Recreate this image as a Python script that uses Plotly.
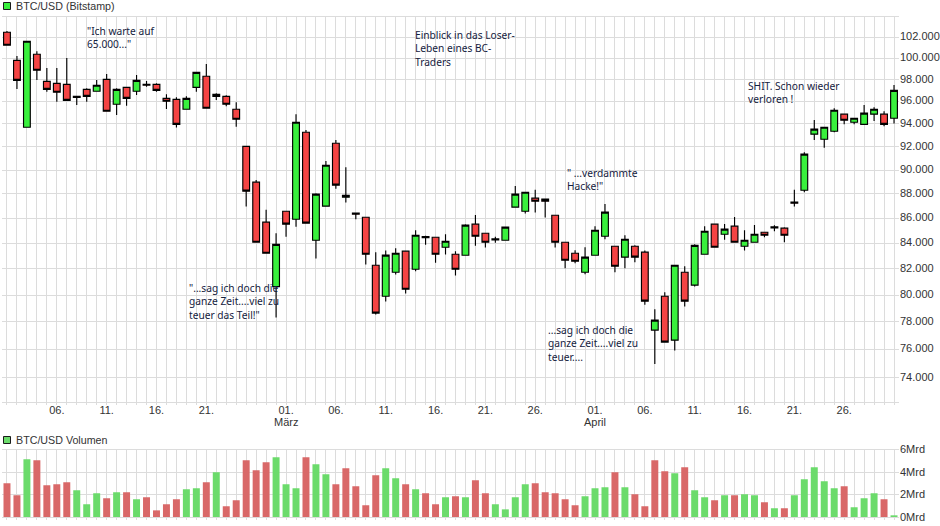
import math
import pandas as pd
import plotly.graph_objects as go
from plotly.subplots import make_subplots

dates = [d.strftime("%Y-%m-%d") for d in pd.date_range("2025-02-01", "2025-05-01")]

opens = [102490,99810,93710,100380,97850,97670,97580,96480,97120,96940,
         98040,95760,97300,96940,97580,97580,96300,96210,95310,97300,
         98320,96480,96480,95310,92030,88980,85690,80640,86580,85930,
         93270,84240,86990,92310,87730,86420,86090,82280,79910,81740,
         83380,81970,84530,84480,83690,83140,83060,85530,84800,84350,
         84240,86910,86580,87650,87570,86250,84080,83220,81740,83060,
         84560,83770,82910,83770,83300,77400,79910,76670,81740,80750,
         83140,85530,84720,85370,83770,84080,84880,85310,85210,87320,
         88310,93100,92660,93360,94870,94150,93970,94870,94870,94510]
closes = [101240,97940,101620,98880,97120,96850,96120,96390,96480,97490,
          95130,97120,96300,97940,97490,97030,96030,93970,96300,98690,
          95400,96670,95760,94420,88230,84080,83220,83920,85530,94150,
          85610,87980,90410,88730,87890,86340,83140,78650,83070,83220,
          80440,84640,84450,83140,84160,81970,85450,84560,84080,84270,
          85290,87980,88140,87400,87400,84080,82670,82590,82910,85040,
          86500,82200,84320,82910,79540,78130,76530,82280,79540,83840,
          84960,83690,85130,84080,84240,84720,84640,85230,84640,87240,
          91360,93540,93710,95220,94330,94510,94960,95310,93970,97030]
highs = [102610,100220,101620,100670,99090,99090,100030,96510,97210,97970,
         98530,97210,97300,98440,97880,97670,96670,96390,96480,98690,
         99470,96760,96580,95940,92030,89170,86690,84800,86580,94870,
         93470,88060,90780,92600,90240,86470,86090,83300,83430,83610,
         83380,85040,84590,84480,84720,83380,85530,86280,84800,84530,
         85290,88670,88140,88340,87570,86250,84080,83450,83690,85370,
         87160,83770,84640,83840,83430,78940,80210,82280,82200,83920,
         85370,85530,85550,86110,85040,85470,84880,85450,85290,88340,
         91530,94360,93710,95400,94870,94510,95700,95490,95130,97520]
lows = [101240,97150,93710,97970,96900,95990,96120,95700,95990,96940,
        95130,94800,95630,96600,97360,96900,95340,93680,95310,96900,
        95400,96150,95580,93760,86960,84080,83220,78320,84530,85330,
        85610,82800,86990,88440,87290,85930,82330,78540,79510,81560,
        80110,81820,83890,82480,83110,81480,83060,83810,83660,84050,
        84240,86910,86390,86480,86060,83660,82050,82440,81590,83060,
        84320,81740,82050,82520,79270,74960,76530,75920,79140,80640,
        83140,83690,84290,84080,83430,84080,84480,84960,84080,86960,
        88140,92600,91920,93270,93970,93970,93970,94270,93800,94030]

volumes = [3.00,1.93,5.13,5.04,2.82,2.91,3.09,2.37,1.13,2.11,
           1.66,2.20,2.20,1.57,1.75,0.59,1.13,1.57,2.46,2.55,
           3.09,3.98,0.95,1.48,5.04,4.15,4.87,5.31,2.91,2.55,
           5.31,4.69,3.80,2.91,4.33,2.73,1.04,3.71,4.33,3.44,
           2.91,2.46,2.11,1.13,1.75,1.84,1.75,3.26,2.11,1.13,
           0.68,1.75,2.91,3.00,2.20,2.11,1.57,1.04,1.84,2.55,
           2.64,3.98,2.64,2.02,0.95,5.04,4.07,3.89,4.42,2.37,
           1.75,1.48,1.93,1.93,2.02,1.93,1.31,0.77,0.77,1.93,
           3.35,4.42,3.18,2.55,2.73,0.86,1.66,2.11,1.57,0.15]
volume_dirs = ["R","R","G","R","R","R","R","G","G","G",
               "R","G","R","G","R","R","R","R","G","G",
               "R","G","R","R","R","R","R","G","G","G",
               "R","G","G","R","R","R","R","R","G","G",
               "R","G","R","R","G","R","G","R","R","G",
               "G","G","G","R","R","R","R","R","G","G",
               "G","R","G","R","R","R","R","G","R","G",
               "G","R","G","R","G","G","R","G","R","G",
               "G","G","G","G","R","G","G","G","R","G"]

price_ticks = [74000,76000,78000,80000,82000,84000,86000,88000,90000,92000,94000,96000,98000,100000,102000,104000]
price_labels = ["74.000","76.000","78.000","80.000","82.000","84.000","86.000","88.000","90.000","92.000","94.000","96.000","98.000","100.000","102.000",""]
date_ticks = ["2025-02-06","2025-02-11","2025-02-16","2025-02-21","2025-03-01","2025-03-06","2025-03-11","2025-03-16","2025-03-21","2025-03-26","2025-04-01","2025-04-06","2025-04-11","2025-04-16","2025-04-21","2025-04-26"]
date_labels = ["06.","11.","16.","21.","01.","06.","11.","16.","21.","26.","01.","06.","11.","16.","21.","26."]
month_dates = ["2025-03-01","2025-04-01"]
month_labels = ["März","April"]
vol_ticks = [0,2,4,6]
vol_labels = ["0Mrd","2Mrd","4Mrd","6Mrd"]

W, H = 940, 526
GRID = "#dcdcdc"
TXT = "#333333"
FONT = "Liberation Sans, Arial, sans-serif"
NOTE = "Noto Sans, sans-serif"

vol_colors = ["#6bdb6b" if c == "G" else "#d96868" for c in volume_dirs]

fig = make_subplots(rows=2, cols=1, shared_xaxes=False)
fig.add_trace(go.Candlestick(
    x=dates, open=opens, high=highs, low=lows, close=closes,
    whiskerwidth=0,
    increasing=dict(fillcolor="#39f03d", line=dict(color="#000000", width=1.15)),
    decreasing=dict(fillcolor="#f44444", line=dict(color="#000000", width=1.15)),
    showlegend=False), row=1, col=1)
fig.add_trace(go.Bar(x=dates, y=volumes, marker=dict(color=vol_colors, line=dict(width=0)),
                     width=0.7 * 86400000, showlegend=False), row=2, col=1)

x_range = ["2025-01-31 12:00", "2025-05-01 12:00"]
minor = dict(dtick=86400000, tick0="2025-02-01", showgrid=True, gridcolor=GRID, gridwidth=1.3,
             ticks="outside", ticklen=2, tickcolor=GRID, tickwidth=1)
ax_x = dict(type="date", range=x_range, domain=[2 / W, 899 / W], showline=True, linecolor=GRID,
            linewidth=1.3, mirror=True, showgrid=True, gridcolor=GRID, gridwidth=1.3, minor=minor,
            automargin=False)
fig.update_layout(
    xaxis=dict(**ax_x, rangeslider=dict(visible=False), tickmode="array", tickvals=date_ticks,
               ticktext=date_labels, ticks="outside", ticklen=2, tickcolor=GRID, ticklabelstandoff=-4,
               tickfont=dict(family=FONT, size=11, color=TXT)),
    xaxis2=dict(**ax_x, tickmode="array", tickvals=date_ticks, ticktext=[""] * len(date_ticks)),
    yaxis=dict(type="log", side="right", domain=[1 - 402 / H, 1 - 16.7 / H], automargin=False,
               range=[math.log10(72330), math.log10(104000)], tickmode="array",
               tickvals=price_ticks, ticktext=price_labels, showgrid=True, gridcolor=GRID,
               gridwidth=1.3, zeroline=False, ticks="", ticklabelshift=-1,
               tickfont=dict(family=FONT, size=11, color=TXT)),
    yaxis2=dict(side="right", domain=[1 - 517 / H, 1 - 449.5 / H], range=[0, 6], tickmode="array", automargin=False,
                tickvals=vol_ticks, ticktext=vol_labels, showgrid=True, gridcolor=GRID, gridwidth=1.3,
                zeroline=False, ticks="",
                tickfont=dict(family=FONT, size=11, color=TXT)),
    width=W, height=H, margin=dict(l=0, r=0, t=0, b=0, pad=0),
    paper_bgcolor="#ffffff", plot_bgcolor="#ffffff", boxgap=0.03, bargap=0.3, hovermode=False,
)

def note(x_px, y_px, text):
    fig.add_annotation(xref="paper", yref="paper", x=x_px / W, y=1 - y_px / H, text=text,
                       xanchor="left", yanchor="top", align="left", showarrow=False,
                       font=dict(family=NOTE, size=10.2, color="#14213d"))

def header(y_px, text, fill):
    fig.add_shape(type="rect", xref="paper", yref="paper", x0=3.5 / W, x1=10.5 / W,
                  y0=1 - (y_px + 3.5) / H, y1=1 - (y_px - 3.5) / H,
                  fillcolor=fill, line=dict(color="#1a1a1a", width=1))
    fig.add_annotation(xref="paper", yref="paper", x=14 / W, y=1 - y_px / H, text=text,
                       xanchor="left", yanchor="middle", showarrow=False,
                       font=dict(family=FONT, size=10.7, color=TXT))

header(6, "BTC/USD (Bitstamp)", "#39f03d")
header(440, "BTC/USD Volumen", "#6bdb6b")
for m_date, m_label in zip(month_dates, month_labels):
    fig.add_annotation(xref="x", yref="paper", x=m_date, y=1 - 422 / H, text=m_label,
                       xanchor="center", yanchor="middle", showarrow=False,
                       font=dict(family=FONT, size=11, color=TXT))
note(85, 22, '"Ich warte auf<br>65.000..."')
note(413, 26, "Einblick in das Loser-<br>Leben eines BC-<br>Traders")
note(187, 279, '"...sag ich doch die<br>ganze Zeit....viel zu<br>teuer das Teil!"')
note(565, 164, '" ...verdammte<br>Hacke!"')
note(546, 321, "...sag ich doch die<br>ganze Zeit....viel zu<br>teuer....")
note(746, 77, "SHIT. Schon wieder<br>verloren !")

fig.write_html("out.html", config={"displayModeBar": False},
               post_script="document.body.style.margin='0';document.body.style.overflow='hidden';")
